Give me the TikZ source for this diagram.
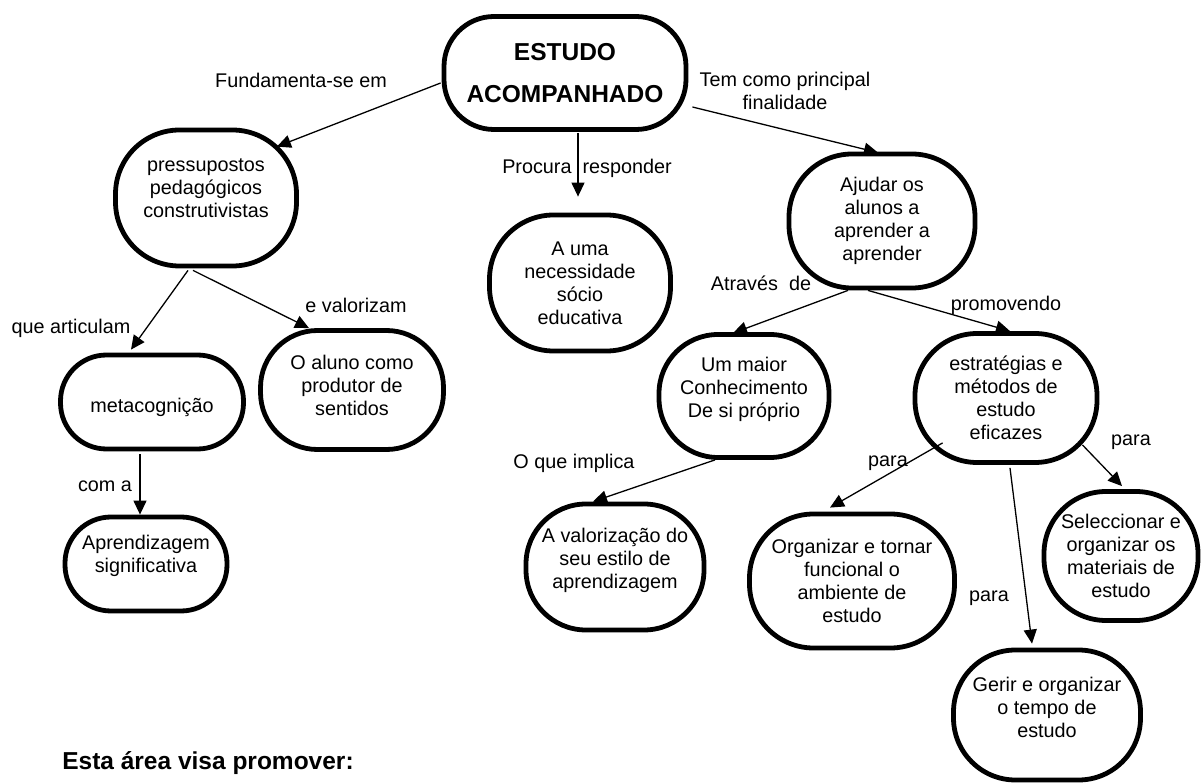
\documentclass[tikz,border=0pt]{standalone}
\usepackage{fontspec}
\setmainfont{Liberation Sans}
\usetikzlibrary{arrows.meta, positioning, calc}
\newcommand{\Lift}[1]{\rule[-#1]{0pt}{0pt}}
\newcommand{\Drop}[1]{\rule{0pt}{#1}}
\tikzset{
    concept/.style={draw, line width=4.8pt, fill=white, rounded corners=#1, align=center,
      inner sep=0pt, font=\fontsize{19.8}{23}\selectfont},
    concept/.default=55pt,
    link/.style={line width=1.3pt, -{Triangle[length=14pt, width=13pt]}},
    rel/.style={inner sep=0pt, align=center, font=\fontsize{19.8}{23}\selectfont},
}

\begin{document}
\begin{tikzpicture}[x=1pt, y=-1pt]
    \useasboundingbox (0,0) rectangle (1202,783);

    \node[concept=50pt, minimum width=242pt, minimum height=113pt,
      font=\bfseries\fontsize{24.5}{42}\selectfont] (est) at (565,73) {ESTUDO\\ACOMPANHADO};

    \node[concept=64pt, minimum width=181pt, minimum height=136pt] (pre) at (206,198) {pressupostos\\pedagógicos\\construtivistas\Lift{20pt}};
    \node[concept=64pt, minimum width=181pt, minimum height=136pt] (nec) at (580,283) {A uma\\necessidade\\sócio\\educativa};
    \node[concept=63pt, minimum width=186pt, minimum height=134pt] (aju) at (882,221) {Ajudar os\\alunos a\\aprender a\\aprender};

    \node[concept=46pt, minimum width=183pt, minimum height=94pt] (met) at (152,402) {\Drop{25pt}metacognição};
    \node[concept=57pt, minimum width=183pt, minimum height=119pt] (alu) at (352,390) {O aluno como\\produtor de\\sentidos\Lift{10pt}};
    \node[concept=46pt, minimum width=162pt, minimum height=94pt] (apr) at (146,564) {Aprendizagem\\significativa\Lift{20pt}};

    \node[concept=59pt, minimum width=170pt, minimum height=123pt] (mai) at (744,396) {Um maior\\Conhecimento\\De si próprio\Lift{18pt}};
    \node[concept=62pt, minimum width=182pt, minimum height=129pt] (estr) at (1006,398) {estratégias e\\métodos de\\estudo\\eficazes};
    \node[concept=60pt, minimum width=178pt, minimum height=126pt] (val) at (615,567) {A valorização do\\seu estilo de\\aprendizagem\Lift{18pt}};
    \node[concept=64pt, minimum width=205pt, minimum height=134pt] (org) at (852,581) {Organizar e tornar\\funcional o\\ambiente de\\estudo};
    \node[concept=62pt, minimum width=154pt, minimum height=129pt] (sel) at (1121,556) {Seleccionar e\\organizar os\\materiais de\\estudo};
    \node[concept=62pt, minimum width=187pt, minimum height=130pt] (ger) at (1047,715) {Gerir e organizar\\o tempo de\\estudo\Lift{16pt}};

    % ligacoes
    \draw ($(est.west)+(-1,10)$) edge[link] ($(pre.north east)+(-22,19)$);
    \draw ($(est.south)+(13,1)$) edge[link] ($(nec.north)+(-2,-16)$);
    \draw ($(est.east)+(4,34)$) edge[link] ($(aju.north)+(-4,1)$);
    \draw ($(pre.south)+(-18,2)$) edge[link] ($(met.north)+(-21,-3)$);
    \draw ($(pre.south)+(-13,2)$) edge[link] ($(alu.north)+(-43,0)$);
    \draw ($(met.south)+(-12,3)$) edge[link] ($(apr.north)+(-6,0)$);
    \draw ($(aju.south)+(-34,0)$) edge[link] ($(mai.north)+(-11,1)$);
    \draw ($(aju.south)+(-14,0)$) edge[link] ($(estr.north)+(4,0)$);
    \draw ($(mai.south)+(-29,0)$) edge[link] ($(val.north)+(-22,0)$);
    \draw ($(estr.south west)+(30,-22)$) edge[link] ($(org.north)+(-22,-4)$);
    \draw ($(estr.south)+(4,3)$) edge[link] ($(ger.north)+(-15,-4)$);
    \draw ($(estr.south east)+(-17,-20)$) edge[link] ($(sel.north)+(1,-3)$);

    % rotulos
    \node[rel] (l1) at (301,80) {Fundamenta-se em};
    \node[rel] (l2) at (785,91) {Tem como principal\\finalidade};
    \node[rel] (l3) at (587,168) {Procura\ \ responder};
    \node[rel] (l4) at (71,328) {que articulam};
    \node[rel] (l5) at (356,305) {e valorizam};
    \node[rel] (l6) at (761,283) {Através\ \ de};
    \node[rel] (l7) at (1006,305) {promovendo};
    \node[rel] (l8) at (105,486) {com a};
    \node[rel] (l9) at (574,463) {O que implica};
    \node[rel] (l10) at (888,463) {para};
    \node[rel] (l11) at (1131,442) {para};
    \node[rel] (l12) at (989,598) {para};
    \node[rel, font=\bfseries\fontsize{24.5}{28}\selectfont] (l13) at (208,763) {Esta área visa promover:};
\end{tikzpicture}
\end{document}
